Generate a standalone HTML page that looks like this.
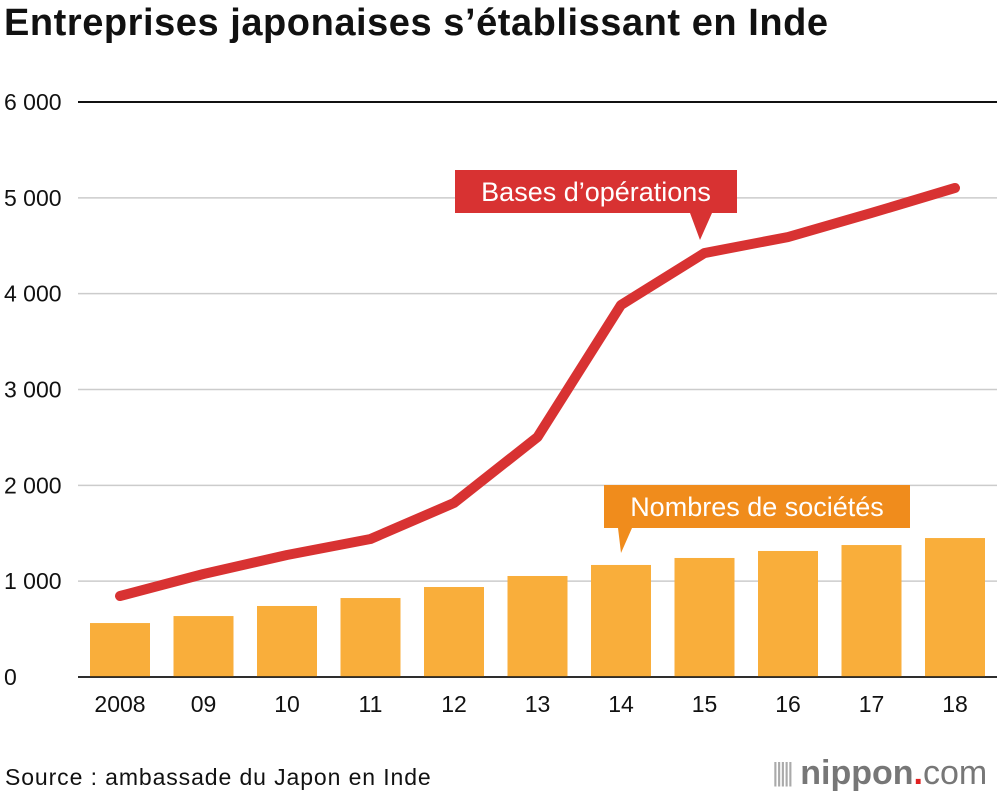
<!DOCTYPE html>
<html><head><meta charset="utf-8"><style>
body{margin:0;width:1000px;height:796px;background:#fff;overflow:hidden;font-family:"Liberation Sans",Arial,sans-serif;}
#title{position:absolute;left:4px;top:2px;font-size:38px;font-weight:bold;color:#111;letter-spacing:0.55px;white-space:nowrap;}
#src{position:absolute;left:5px;top:764px;font-size:23px;color:#111;letter-spacing:0.9px;white-space:nowrap;}
#logo{position:absolute;left:772px;top:754px;font-size:34px;color:#777;font-weight:bold;white-space:nowrap;}
</style></head><body>
<div id="title">Entreprises japonaises s’établissant en Inde</div>
<svg id="chart" width="1000" height="796" style="position:absolute;left:0;top:0"></svg>
<div id="src">Source : ambassade du Japon en Inde</div>
<div id="logo"><span style="font-weight:normal;font-size:26px;letter-spacing:-3px;color:#aaa;vertical-align:3px">|||||</span> nippon<span style="color:#e02020">.</span><span style="font-weight:normal">com</span></div>
<script>
const years=["2008","09","10","11","12","13","14","15","16","17","18"];
const companies=[563,636,741,824,939,1054,1169,1242,1315,1377,1450];
const bases=[845,1075,1273,1440,1816,2504,3882,4424,4591,4842,5103];
const yTicks=[0,1000,2000,3000,4000,5000,6000];
const yTickLabels=["0","1 000","2 000","3 000","4 000","5 000","6 000"];
const NS="http://www.w3.org/2000/svg";
const svg=document.getElementById('chart');
const y0=677,yTop=102,maxV=6000;
const y=v=>y0-(v/maxV)*(y0-yTop);
const x=i=>120+i*83.5;
function mk(t,a){const e=document.createElementNS(NS,t);for(const k in a)e.setAttribute(k,a[k]);svg.appendChild(e);return e;}
yTicks.forEach((v,i)=>{
  const l=mk('line',{x1:78,x2:997,y1:y(v),y2:y(v),stroke:(i==yTicks.length-1||i==0)?'#111':'#ccc','stroke-width':i==yTicks.length-1?2:1.5});
  
  
  const t=mk('text',{x:4,y:y(v)+8,'font-size':23,fill:'#111'});
  t.textContent=yTickLabels[i];
  
  
});
companies.forEach((v,i)=>{
  const r=mk('rect',{x:x(i)-30,y:y(v),width:60,height:y0-y(v),fill:'#f9ae3b'});
  
  
  const t=mk('text',{x:x(i),y:712,'font-size':23,fill:'#111','text-anchor':'middle'});
  t.textContent=years[i];
  
  
});
const base=mk('line',{x1:78,x2:997,y1:y0,y2:y0,stroke:'#111','stroke-width':1.5});


const pl=mk('polyline',{points:bases.map((v,i)=>x(i)+','+y(v)).join(' '),fill:'none',stroke:'#d83232','stroke-width':10,'stroke-linejoin':'round','stroke-linecap':'round'});


const rb=mk('path',{d:'M455,170 H737 V213 H712 L700,240 L690,213 H455 Z',fill:'#d83232'});


const rt=mk('text',{x:596,y:201,'font-size':27,fill:'#fff','text-anchor':'middle'});
rt.textContent='Bases d’opérations';


const ob=mk('path',{d:'M604,485 H910 V528 H632 L621,553 L618,528 H604 Z',fill:'#f08c1c'});


const ot=mk('text',{x:757,y:516,'font-size':27,fill:'#fff','text-anchor':'middle'});
ot.textContent='Nombres de sociétés';


</script>
</body></html>
